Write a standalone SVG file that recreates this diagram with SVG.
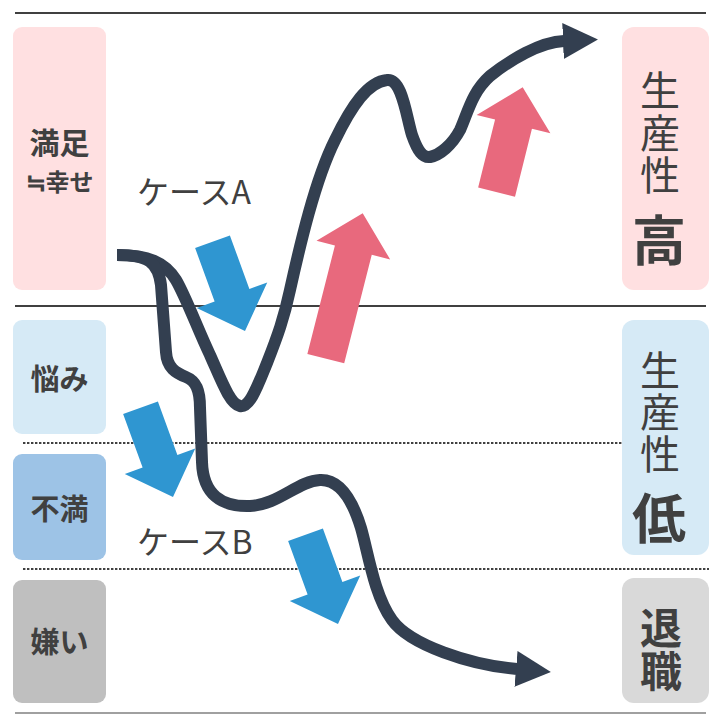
<svg xmlns="http://www.w3.org/2000/svg" width="717" height="714" viewBox="0 0 717 714">
<style>
.rule{stroke:#404040;stroke-width:2;fill:none}
.dot{stroke:#404040;stroke-width:2;stroke-dasharray:2.4 1.6;fill:none}
.pink{fill:#FFE0E1}
.lblue{fill:#D6EAF6}
.mblue{fill:#9DC3E6}
.gray{fill:#BFBFBF}
.lgray{fill:#D9D9D9}
.blue{fill:#2F96D1}
.red{fill:#E8697D}
.curve{stroke:#333F50;stroke-width:12;fill:none;marker-end:url(#head)}
text{font-family:"Noto Sans CJK JP","Noto Sans CJK SC",sans-serif;fill:#404040}
.b{font-weight:700}
.c{text-anchor:middle}
.v{writing-mode:vertical-rl;text-anchor:start}
</style>
<defs>
<marker id="head" markerUnits="userSpaceOnUse" markerWidth="36" markerHeight="36" viewBox="0 0 36 36" refX="1" refY="18" orient="auto">
<path d="M0,0 L35,18 L0,36 Z" fill="#333F50"/>
</marker>
<path id="darrow" d="M-18.5,-95 L18.5,-95 L18.5,-38 L37.5,-38 L0,0 L-37.5,-38 L-18.5,-38 Z"/>
</defs>

<g id="rules">
<line class="rule" x1="15" y1="13" x2="706" y2="13"/>
<line class="rule" x1="15" y1="306" x2="706" y2="306"/>
<line class="dot" x1="23" y1="443" x2="622" y2="443"/>
<line class="dot" x1="23" y1="569" x2="709" y2="569"/>
<line x1="15" y1="713" x2="706" y2="713" stroke="#808080" stroke-width="1.5"/>
</g>

<g id="node-satisfied"><rect class="pink" x="13" y="27" width="93" height="263" rx="9"/>
<text class="b c" x="59.5" y="154" font-size="30">満足</text>
<text class="b c" x="59.5" y="191" font-size="24">≒幸せ</text></g>
<g id="node-worry"><rect class="lblue" x="13" y="320" width="93" height="114" rx="9"/>
<text class="b c" x="59.5" y="390" font-size="29">悩み</text></g>
<g id="node-discontent"><rect class="mblue" x="13" y="454" width="93" height="106" rx="9"/>
<text class="b c" x="59.5" y="520" font-size="29">不満</text></g>
<g id="node-dislike"><rect class="gray" x="13" y="580" width="93" height="123" rx="9"/>
<text class="b c" x="59.5" y="653" font-size="29">嫌い</text></g>

<g id="node-high"><rect class="pink" x="622" y="27" width="87" height="263" rx="12"/>
<text class="v" x="660" y="70" font-size="40" letter-spacing="2.5">生産性</text>
<text class="b c" x="659" y="261" font-size="54">高</text></g>
<g id="node-low"><rect class="lblue" x="622" y="320" width="87" height="235" rx="12"/>
<text class="v" x="660" y="350" font-size="40" letter-spacing="2">生産性</text>
<text class="b c" x="659" y="539" font-size="54">低</text></g>
<g id="node-quit"><rect class="lgray" x="622" y="578" width="87" height="125" rx="12"/>
<text class="v b" x="661" y="607" font-size="42" letter-spacing="1">退職</text></g>

<g id="trend-arrows">
<use href="#darrow" class="blue" transform="translate(245,331) rotate(-20)"/>
<use href="#darrow" class="blue" transform="translate(173,497) rotate(-20)"/>
<use href="#darrow" class="blue" transform="translate(338,624) rotate(-20)"/>
<path class="red" transform="translate(362.7,213.3) rotate(14.25)" d="M-19,150 L19,150 L19,38 L38,38 L0,0 L-38,38 L-19,38 Z"/>
<path class="red" transform="translate(522.7,87.3) rotate(14)" d="M-19,108 L19,108 L19,38 L38,38 L0,0 L-38,38 L-19,38 Z"/>
</g>

<g id="connectors">
<path id="case-a" class="curve" d="M117,255 C148,255 165,262 176,280 C186,297 198,330 210,355 C222,382 230,404 240,406 C250,408 258,385 267,363 C278,335 284,318 290,290 C300,245 315,180 335,140 C352,105 368,82 387,80 C402,78 406,115 412,135 C418,152 423,158 430,157 C440,155 452,145 460,130 C468,112 472,92 490,76 C510,60 540,42 564,41"/>
<path id="case-b" class="curve" d="M117,255 C148,255 158,262 161,285 L166,352 C167,368 176,373 186,377 C196,381 200,390 200,408 L202,462 C203,495 222,507 250,506 C278,505 298,481 320,480 C342,479 354,505 361,528 C368,552 374,595 392,620 C410,645 470,665 517,669"/>
</g>

<g id="labels">
<text x="137" y="204" font-size="32">ケースA</text>
<text x="137" y="554" font-size="32">ケースB</text>
</g>
</svg>
